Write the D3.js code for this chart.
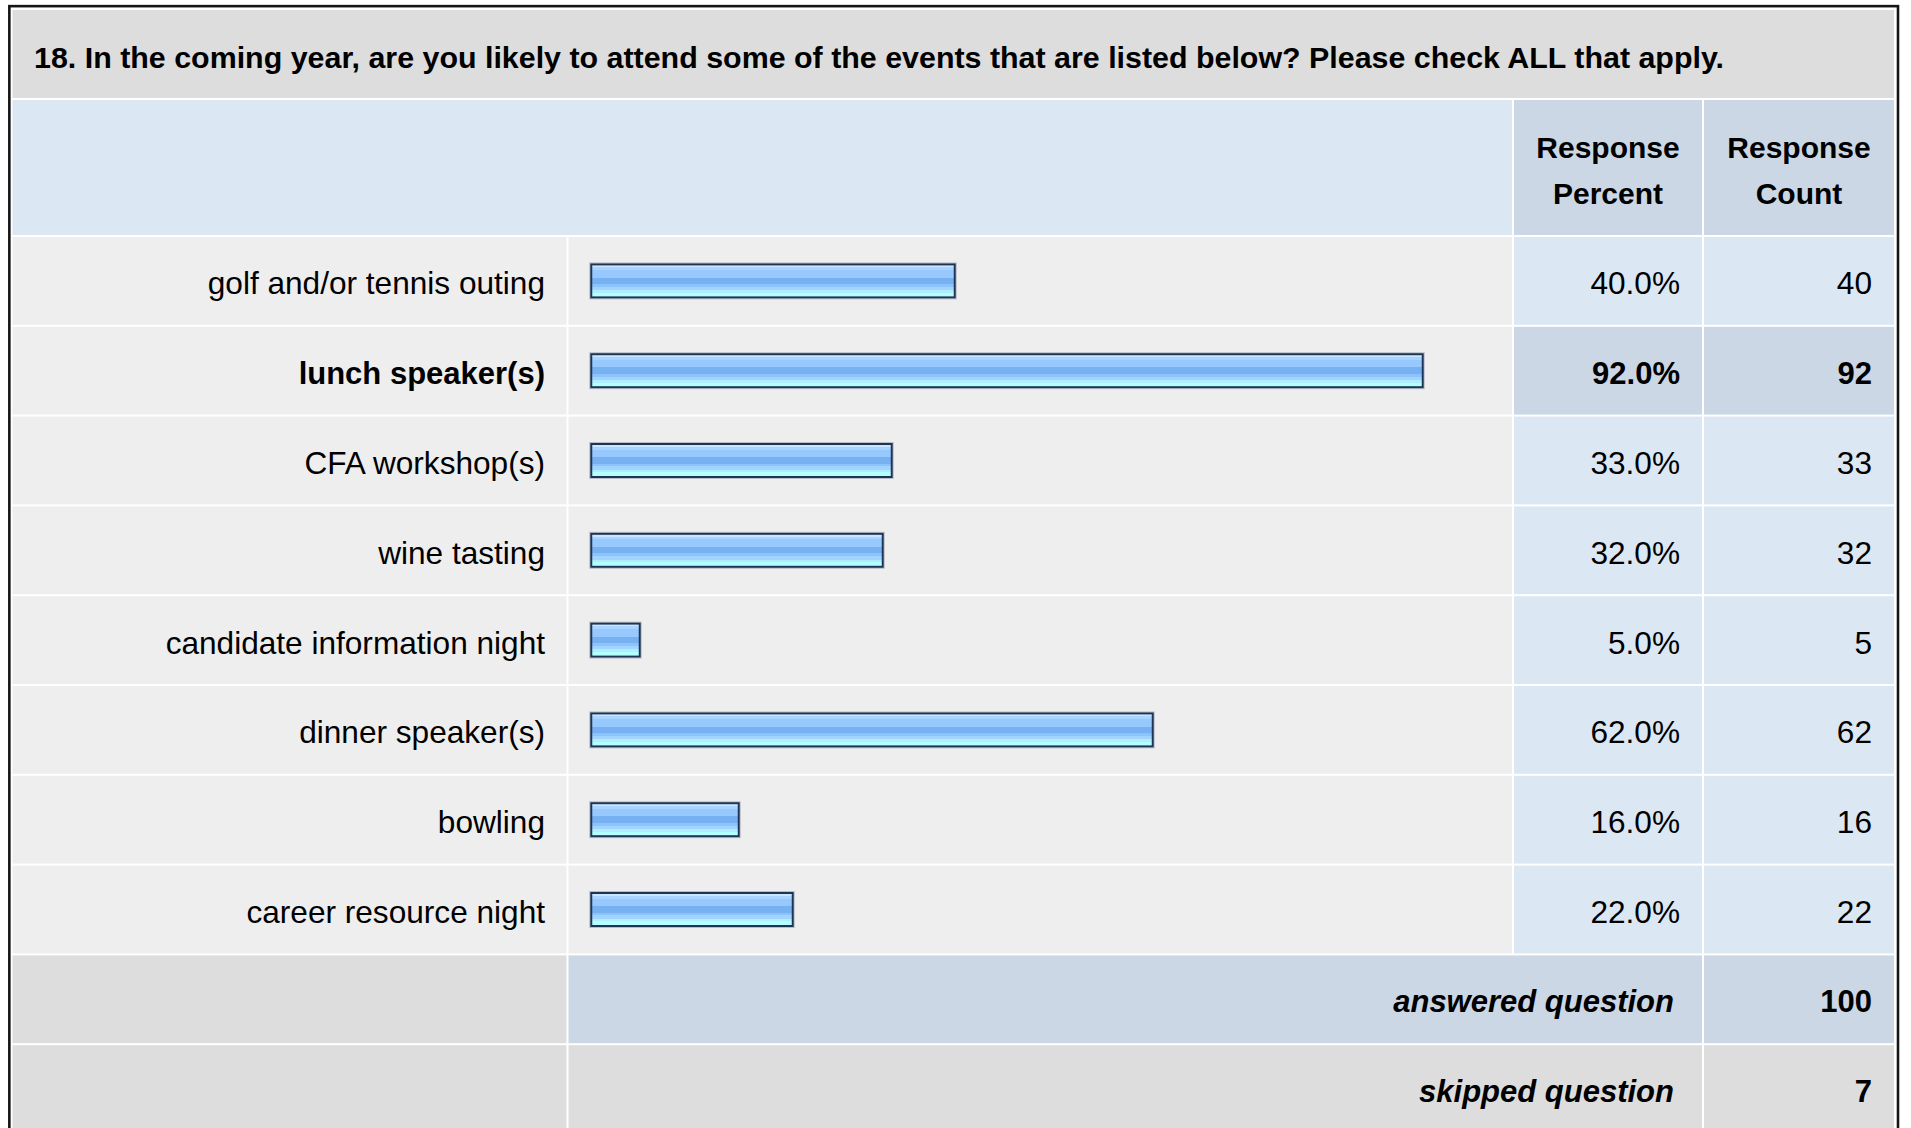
<!DOCTYPE html>
<html>
<head>
<meta charset="utf-8">
<script src="https://cdn.jsdelivr.net/npm/d3@7"></script>
<style>
  html, body { margin: 0; padding: 0; background: #ffffff; }
  svg { display: block; }
  text { font-family: "Liberation Sans", Arial, Helvetica, sans-serif; fill: #000; }
</style>
</head>
<body>
<svg id="chart" width="1911" height="1128"></svg>
<script>
// Survey question and answers
const questionText = "18. In the coming year, are you likely to attend some of the events that are listed below? Please check ALL that apply.";
const headerPercent = ["Response", "Percent"];
const headerCount = ["Response", "Count"];

const categories = [
  "golf and/or tennis outing",
  "lunch speaker(s)",
  "CFA workshop(s)",
  "wine tasting",
  "candidate information night",
  "dinner speaker(s)",
  "bowling",
  "career resource night"
];
const percents = [40.0, 92.0, 33.0, 32.0, 5.0, 62.0, 16.0, 22.0];
const counts = [40, 92, 33, 32, 5, 62, 16, 22];

const footerLabels = ["answered question", "skipped question"];
const footerCounts = [100, 7];

// Colours
const C = {
  frame: "#151515",
  title: "#dddddd",
  headLight: "#dce7f4",
  headDark: "#cbd7e5",
  row: "#eeeeee",
  barStroke: "#1c3557"
};

const svg = d3.select("#chart");

// Column edges
const col = {
  label: [12.5, 566.5],
  bar: [568.5, 1512],
  pct: [1514, 1702],
  count: [1704, 1894]
};
const tableLeft = col.label[0], tableRight = col.count[1];

// Row layout: data rows followed by the two footer rows
const nRows = categories.length + footerLabels.length;
const rowStep = 89.8, gap = 2;
const rowY = d3.scaleBand()
  .domain(d3.range(nRows))
  .range([237, 237 + nRows * rowStep - gap])
  .paddingInner(gap / rowStep)
  .paddingOuter(0);
const rh = rowY.bandwidth();

// Bar length scale
const x = d3.scaleLinear().domain([0, 100]).range([593, 1493]);
const barPad = 2.75, barH = 35;

// Highlight the most chosen answer
const topIdx = d3.maxIndex(counts);

// Gradient for the glossy bars
const defs = svg.append("defs");
const grad = defs.append("linearGradient")
  .attr("id", "barGrad").attr("x1", 0).attr("x2", 0).attr("y1", 0).attr("y2", 1);
const stops = [
  [0.00, "#cae5ff"], [0.085, "#cae5ff"],
  [0.085, "#a9d4ff"], [0.17, "#a9d4ff"],
  [0.17, "#97c9ff"], [0.40, "#97c9ff"],
  [0.40, "#78b1f1"], [0.595, "#78b1f1"],
  [0.595, "#8cc3fa"], [0.68, "#8cc3fa"],
  [0.68, "#a1d5ff"], [0.78, "#a1d5ff"],
  [0.78, "#aeeeff"], [0.86, "#aeeeff"],
  [0.86, "#b3ffff"], [1.00, "#b3ffff"]
];
grad.selectAll("stop").data(stops).join("stop")
  .attr("offset", d => d[0]).attr("stop-color", d => d[1]);

// Outer frame
svg.append("rect")
  .attr("x", 9.35).attr("y", 6.15)
  .attr("width", 1898 - 9.35).attr("height", 1200)
  .attr("fill", "#ffffff")
  .attr("stroke", C.frame).attr("stroke-width", 2.6);

// Title band
svg.append("rect")
  .attr("x", tableLeft).attr("y", 10)
  .attr("width", tableRight - tableLeft).attr("height", 88)
  .attr("fill", C.title);
svg.append("text")
  .attr("x", 34).attr("y", 68)
  .attr("font-size", 30.4).attr("font-weight", "bold")
  .text(questionText);

// Header row
const headTop = 100, headH = 135;
svg.append("rect")
  .attr("x", col.label[0]).attr("y", headTop)
  .attr("width", col.bar[1] - col.label[0]).attr("height", headH)
  .attr("fill", C.headLight);
[[col.pct, headerPercent], [col.count, headerCount]].forEach(([c, lines]) => {
  svg.append("rect")
    .attr("x", c[0]).attr("y", headTop)
    .attr("width", c[1] - c[0]).attr("height", headH)
    .attr("fill", C.headDark);
  svg.append("g").selectAll("text").data(lines).join("text")
    .attr("x", (c[0] + c[1]) / 2)
    .attr("y", (d, i) => headTop + 57.8 + i * 46.3)
    .attr("text-anchor", "middle")
    .attr("font-size", 30).attr("font-weight", "bold")
    .text(d => d);
});

// Data rows
const rows = svg.append("g").selectAll("g")
  .data(categories.map((c, i) => ({ label: c, pct: percents[i], count: counts[i], i })))
  .join("g")
  .attr("transform", d => `translate(0,${rowY(d.i)})`);

rows.append("rect")
  .attr("x", col.label[0]).attr("width", col.label[1] - col.label[0])
  .attr("height", rh).attr("fill", C.row);
rows.append("rect")
  .attr("x", col.bar[0]).attr("width", col.bar[1] - col.bar[0])
  .attr("height", rh).attr("fill", C.row);
rows.append("rect")
  .attr("x", col.pct[0]).attr("width", col.pct[1] - col.pct[0])
  .attr("height", rh).attr("fill", d => d.i === topIdx ? C.headDark : C.headLight);
rows.append("rect")
  .attr("x", col.count[0]).attr("width", col.count[1] - col.count[0])
  .attr("height", rh).attr("fill", d => d.i === topIdx ? C.headDark : C.headLight);

const textAttrs = sel => sel
  .attr("y", rh / 2 + 13.5)
  .attr("text-anchor", "end")
  .attr("font-size", d => d.i === topIdx ? 31 : 31.6)
  .attr("font-weight", d => d.i === topIdx ? "bold" : "normal");

rows.append("text").call(textAttrs).attr("x", 545).text(d => d.label);
rows.append("text").call(textAttrs).attr("x", 1680).text(d => d.pct.toFixed(1) + "%");
rows.append("text").call(textAttrs).attr("x", 1872).text(d => d.count);

// Bars: faint halo, then gradient body with dark edge
rows.append("rect")
  .attr("x", x(0) - barPad - 0.5)
  .attr("y", (rh - barH) / 2 - 0.5)
  .attr("width", d => x(d.pct) - x(0) + 2 * barPad + 1)
  .attr("height", barH + 1)
  .attr("fill", "none")
  .attr("stroke", "#b9bec6").attr("stroke-width", 1);
rows.append("rect")
  .attr("x", x(0) - barPad + 1)
  .attr("y", (rh - barH) / 2 + 1)
  .attr("width", d => x(d.pct) - x(0) + 2 * barPad - 2)
  .attr("height", barH - 2)
  .attr("fill", "url(#barGrad)")
  .attr("stroke", C.barStroke).attr("stroke-width", 2);

// Footer rows
const foot = svg.append("g").selectAll("g")
  .data(footerLabels.map((l, k) => ({ label: l, count: footerCounts[k], k })))
  .join("g")
  .attr("transform", d => `translate(0,${rowY(categories.length + d.k)})`);

foot.append("rect")
  .attr("x", col.label[0]).attr("width", col.label[1] - col.label[0])
  .attr("height", rh).attr("fill", C.title);
foot.append("rect")
  .attr("x", col.bar[0]).attr("width", col.pct[1] - col.bar[0])
  .attr("height", rh).attr("fill", d => d.k === 0 ? C.headDark : C.title);
foot.append("rect")
  .attr("x", col.count[0]).attr("width", col.count[1] - col.count[0])
  .attr("height", rh).attr("fill", d => d.k === 0 ? C.headDark : C.title);
foot.append("text")
  .attr("x", 1674).attr("y", rh / 2 + 13)
  .attr("text-anchor", "end").attr("font-size", 31)
  .attr("font-weight", "bold").attr("font-style", "italic")
  .text(d => d.label);
foot.append("text")
  .attr("x", 1872).attr("y", rh / 2 + 13)
  .attr("text-anchor", "end").attr("font-size", 31)
  .attr("font-weight", "bold")
  .text(d => d.count);
</script>
</body>
</html>
